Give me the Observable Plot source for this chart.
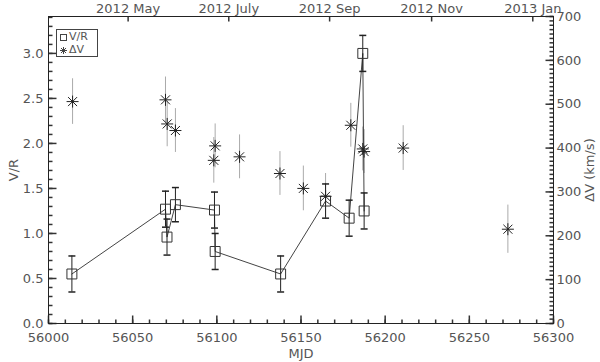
<!DOCTYPE html>
<html><head><meta charset="utf-8">
<script src="https://cdn.jsdelivr.net/npm/d3@7"></script>
<script src="https://cdn.jsdelivr.net/npm/@observablehq/plot@0.6"></script>
<style>
body{margin:0;background:#fff;}
#wrap{position:relative;width:600px;height:362px;}
#legend{position:absolute;left:56px;top:29px;width:42px;height:28px;border:1px solid #444;background:#fff;font:11px "DejaVu Sans",sans-serif;color:#555;box-sizing:border-box;}
#legend .row{position:absolute;left:3px;height:11px;line-height:11px;white-space:nowrap;}
#legend svg{vertical-align:middle;margin-right:2px;}
</style></head><body><div id="wrap"></div>
<script>
// V/R data
const vrMjd = [56013.9, 56069.5, 56070.4, 56075.4, 56098.6, 56099.0, 56137.9, 56164.6, 56178.6, 56186.7, 56187.5];
const vrVal = [0.55, 1.27, 0.96, 1.32, 1.26, 0.80, 0.55, 1.36, 1.17, 3.00, 1.25];
const vrErr = [0.20, 0.20, 0.20, 0.19, 0.20, 0.20, 0.20, 0.19, 0.20, 0.20, 0.20];
// Delta V data (km/s)
const dvMjd = [56014.3, 56069.5, 56070.5, 56075.4, 56098.2, 56099.0, 56113.5, 56137.5, 56151.4, 56164.6, 56179.6, 56186.7, 56187.5, 56210.7, 56272.9];
const dvVal = [506, 510, 455, 440, 372, 405, 380, 342, 308, 290, 452, 398, 392, 400, 215];
const dvErr = [52, 52, 52, 50, 52, 50, 50, 50, 51, 52, 50, 50, 50, 51, 55];
// axes
const xMajor = [56000, 56050, 56100, 56150, 56200, 56250, 56300];
const yMajor = [0, 0.5, 1.0, 1.5, 2.0, 2.5, 3.0];
const dvMajor = [0, 100, 200, 300, 400, 500, 600, 700];
const monthMjd = [56047.3, 56107.1, 56167.0, 56227.6, 56287.7];
const monthLabels = ["2012 May", "2012 July", "2012 Sep", "2012 Nov", "2013 Jan"];

const yMax = 3.41, dvMax = 700, k = yMax / dvMax;
const xMinor = d3.range(56000, 56301, 10);
const yMinor = d3.range(0, 35).map(i => i / 10);
const dvMinor = d3.range(0, 71).map(i => i * 10);
const monthMap = new Map(monthMjd.map((m, i) => [m, monthLabels[i]]));

const vrData = vrMjd.map((m, i) => ({mjd: m, v: vrVal[i], e: vrErr[i]}));
const dvData = dvMjd.map((m, i) => ({mjd: m, v: dvVal[i], e: dvErr[i]}));

const rad = size => Math.sqrt(size / Math.PI);
const capSym = {draw(ctx, size) { const r = rad(size); ctx.moveTo(-r, 0); ctx.lineTo(r, 0); }};
const tickUp = {draw(ctx, size) { ctx.moveTo(0, 0); ctx.lineTo(0, -rad(size)); }};
const tickDown = {draw(ctx, size) { ctx.moveTo(0, 0); ctx.lineTo(0, rad(size)); }};
const tickRight = {draw(ctx, size) { ctx.moveTo(0, 0); ctx.lineTo(rad(size), 0); }};
const tickLeft = {draw(ctx, size) { ctx.moveTo(0, 0); ctx.lineTo(-rad(size), 0); }};
const starSym = {draw(ctx, size) {
  const r = rad(size), d = r * 0.75;
  ctx.moveTo(-r, 0); ctx.lineTo(r, 0);
  ctx.moveTo(0, -r); ctx.lineTo(0, r);
  ctx.moveTo(-d, -d); ctx.lineTo(d, d);
  ctx.moveTo(-d, d); ctx.lineTo(d, -d);
}};
const tk = "#333";

const chart = Plot.plot({
  width: 600, height: 362,
  marginLeft: 48, marginRight: 47, marginTop: 16, marginBottom: 39,
  style: {fontFamily: "DejaVu Sans, sans-serif", fontSize: "13px", color: "#444", background: "#fff"},
  x: {domain: [56000, 56300]},
  y: {domain: [0, yMax]},
  marks: [
    // axis labels
    Plot.axisX({anchor: "bottom", ticks: xMajor, tickSize: 0, tickPadding: 9, tickFormat: d => String(d), fill: "#555", label: "MJD", labelAnchor: "center", labelOffset: 34, labelArrow: "none"}),
    Plot.axisX({anchor: "top", ticks: monthMjd, tickSize: 0, tickPadding: 4, tickFormat: d => monthMap.get(d), fill: "#555", label: null}),
    Plot.axisY({anchor: "left", ticks: yMajor, tickSize: 0, tickPadding: 5, tickFormat: d3.format(".1f"), fill: "#555", label: "V/R", labelAnchor: "center", labelOffset: 40, labelArrow: "none"}),
    Plot.axisY({anchor: "right", ticks: dvMajor.map(v => v * k), tickSize: 0, tickPadding: 3, tickFormat: d => String(Math.round(d / k)), fill: "#555", label: "ΔV (km/s)", labelAnchor: "center", labelOffset: 40, labelArrow: "none"}),
    // inward ticks
    Plot.dot(xMajor, {x: d => d, frameAnchor: "bottom", symbol: tickUp, r: 8, stroke: tk}),
    Plot.dot(xMinor, {x: d => d, frameAnchor: "bottom", symbol: tickUp, r: 4, stroke: tk}),
    Plot.dot(monthMjd, {x: d => d, frameAnchor: "top", symbol: tickDown, r: 5, stroke: tk}),
    Plot.dot(yMajor, {y: d => d, frameAnchor: "left", symbol: tickRight, r: 8, stroke: tk}),
    Plot.dot(yMinor, {y: d => d, frameAnchor: "left", symbol: tickRight, r: 4, stroke: tk}),
    Plot.dot(dvMajor, {y: d => d * k, frameAnchor: "right", symbol: tickLeft, r: 8, stroke: tk}),
    Plot.dot(dvMinor, {y: d => d * k, frameAnchor: "right", symbol: tickLeft, r: 4, stroke: tk}),
    Plot.frame({stroke: "#222"}),
    // delta V error bars
    Plot.ruleX(dvData, {x: "mjd", y1: d => (d.v - d.e) * k, y2: d => (d.v + d.e) * k, stroke: "#aaa"}),
    // V/R line and errors
    Plot.line(vrData, {x: "mjd", y: "v", stroke: "#444", strokeWidth: 1}),
    Plot.ruleX(vrData, {x: "mjd", y1: d => d.v - d.e, y2: d => d.v + d.e, stroke: "#222"}),
    Plot.dot(vrData, {x: "mjd", y: d => d.v + d.e, symbol: capSym, r: 3.5, stroke: "#222"}),
    Plot.dot(vrData, {x: "mjd", y: d => d.v - d.e, symbol: capSym, r: 3.5, stroke: "#222"}),
    Plot.dot(vrData, {x: "mjd", y: "v", symbol: "square", r: 5.6, stroke: "#333", fill: "none", strokeWidth: 1}),
    // delta V points
    Plot.dot(dvData, {x: "mjd", y: d => d.v * k, symbol: starSym, r: 6, stroke: "#222", strokeWidth: 1})
  ]
});
const wrap = document.getElementById("wrap");
wrap.appendChild(chart);
const leg = document.createElement("div");
leg.id = "legend";
leg.innerHTML = `<div class="row" style="top:1px"><svg width="7" height="7"><rect x="0.5" y="0.5" width="6" height="6" fill="none" stroke="#444"/></svg>V/R</div>
<div class="row" style="top:14px"><svg width="7" height="7"><path d="M0,3.5H7M3.5,0V7M1,1L6,6M1,6L6,1" stroke="#444" fill="none"/></svg>ΔV</div>`;
wrap.appendChild(leg);
</script></body></html>
